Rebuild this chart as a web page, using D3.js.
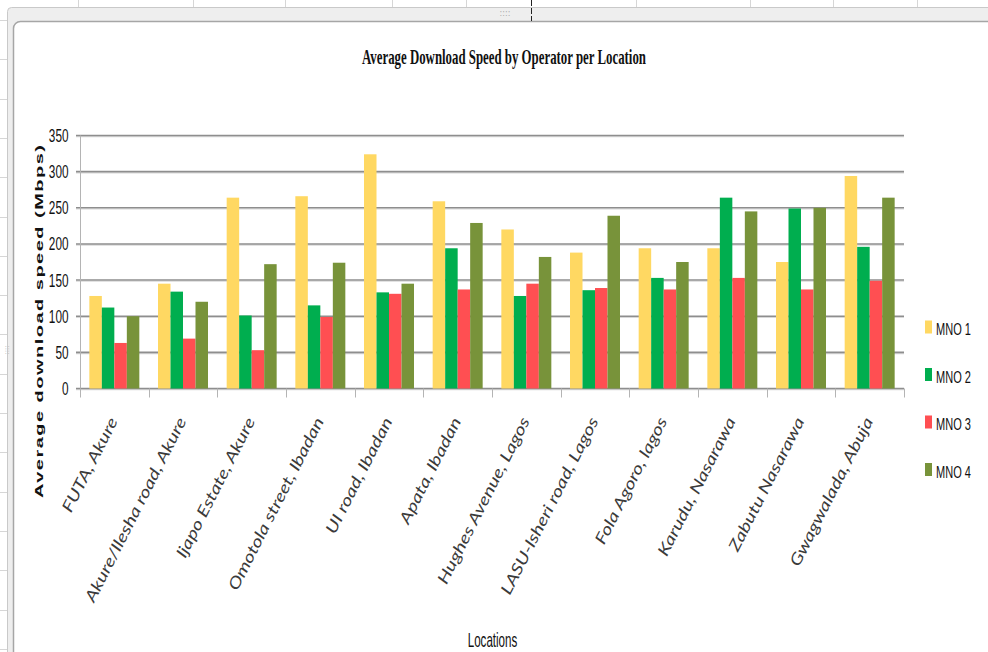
<!DOCTYPE html>
<html>
<head>
<meta charset="utf-8">
<script src="https://cdn.jsdelivr.net/npm/d3@7"></script>
<style>
  html, body { margin: 0; padding: 0; background: #fff; }
  svg { display: block; }
</style>
</head>
<body>
<svg id="chart" width="988" height="652"></svg>
<script>
// Locations surveyed
const locations = [
  "FUTA, Akure",
  "Akure/Ilesha road, Akure",
  "Ijapo Estate, Akure",
  "Omotola street, Ibadan",
  "UI road, Ibadan",
  "Apata, Ibadan",
  "Hughes Avenue, Lagos",
  "LASU-Isheri road, Lagos",
  "Fola Agoro, lagos",
  "Karudu, Nasarawa",
  "Zabutu Nasarawa",
  "Gwagwalada, Abuja"
];

// Operators
const operators = ["MNO 1", "MNO 2", "MNO 3", "MNO 4"];

// Average download speed (Mbps) per operator, one value per location
const mno1 = [128, 145, 264, 266, 324, 259, 220, 188, 194, 194, 175, 294];
const mno2 = [112, 134, 101, 115, 133, 194, 128, 136, 153, 264, 249, 196];
const mno3 = [63, 69, 53, 99, 131, 137, 145, 139, 137, 153, 137, 149];
const mno4 = [100, 120, 172, 174, 145, 229, 182, 239, 175, 245, 250, 264];

// Y axis ticks
const yTicks = [0, 50, 100, 150, 200, 250, 300, 350];

const seriesValues = [mno1, mno2, mno3, mno4];
const colors = ["#FFD862", "#00AE4F", "#FF4F52", "#78933A"];

const svg = d3.select("#chart");

// ---- worksheet backdrop around the chart object ----
const sheet = svg.append("g");
const colLines = [78, 193, 285, 392, 466, 636, 750, 833, 917];
colLines.forEach(x => sheet.append("line")
  .attr("x1", x + 0.5).attr("x2", x + 0.5).attr("y1", 0).attr("y2", 20)
  .attr("stroke", "#d6d6d6"));
d3.range(20, 652, 39.3).forEach(y => sheet.append("line")
  .attr("x1", 0).attr("x2", 8).attr("y1", Math.round(y) + 0.5).attr("y2", Math.round(y) + 0.5)
  .attr("stroke", "#d6d6d6"));

// chart object frame
sheet.append("rect")
  .attr("x", 7.5).attr("y", 7.5).attr("width", 1000).attr("height", 700)
  .attr("rx", 4).attr("fill", "#eeeeee").attr("stroke", "#c9c9c9");
sheet.append("rect")
  .attr("x", 13.5).attr("y", 21.5).attr("width", 1000).attr("height", 700)
  .attr("rx", 7).attr("fill", "#ffffff").attr("stroke", "#a6a6a6").attr("stroke-width", 1.5);
// resize handle and cursor marks
sheet.append("text").attr("x", 505).attr("y", 16).attr("text-anchor", "middle")
  .attr("font-family", "DejaVu Sans").attr("font-size", 8).attr("fill", "#aaa").text("::::");
sheet.append("line").attr("x1", 531.5).attr("x2", 531.5).attr("y1", 0).attr("y2", 21)
  .attr("stroke", "#222").attr("stroke-dasharray", "6,2");
sheet.append("text").attr("x", 9).attr("y", 350).attr("text-anchor", "middle")
  .attr("font-family", "DejaVu Sans").attr("font-size", 7).attr("fill", "#bbb")
  .attr("transform", "rotate(-90,9,350)").text("::::");

// ---- scales ----
const plot = { left: 80, right: 904, top: 135.5, bottom: 388.5 };

const x0 = d3.scaleBand().domain(locations).range([plot.left, plot.right]).padding(0);
const pad = x0.bandwidth() * 0.136;
const x1 = d3.scaleBand().domain(operators).range([pad, x0.bandwidth() - pad]).padding(0);
const y = d3.scaleLinear().domain([0, 350]).range([plot.bottom, plot.top]);

// ---- gridlines ----
const grid = svg.append("g");
grid.selectAll("line.shadow").data(yTicks).join("line")
  .attr("x1", 76).attr("x2", plot.right)
  .attr("y1", d => y(d) + 1.2).attr("y2", d => y(d) + 1.2)
  .attr("stroke", "#d8d8d8").attr("stroke-width", 1.2);
grid.selectAll("line.main").data(yTicks).join("line")
  .attr("x1", 76).attr("x2", plot.right)
  .attr("y1", d => y(d)).attr("y2", d => y(d))
  .attr("stroke", "#8e8e8e").attr("stroke-width", 1.6);

// left axis line
svg.append("line")
  .attr("x1", plot.left + 0.5).attr("x2", plot.left + 0.5)
  .attr("y1", plot.top).attr("y2", plot.bottom)
  .attr("stroke", "#b4b4b4");

// category tick marks under the baseline
const boundaries = locations.map(d => x0(d)).concat([plot.right]);
svg.append("g").selectAll("line").data(boundaries).join("line")
  .attr("x1", d => Math.round(d) + 0.5).attr("x2", d => Math.round(d) + 0.5)
  .attr("y1", plot.bottom).attr("y2", plot.bottom + 9)
  .attr("stroke", "#b4b4b4");

// ---- bars ----
const groups = svg.append("g").selectAll("g").data(locations).join("g")
  .attr("transform", d => `translate(${x0(d)},0)`);
groups.selectAll("rect")
  .data((d, i) => operators.map((op, k) => ({ op, k, v: seriesValues[k][i] })))
  .join("rect")
  .attr("x", d => x1(d.op))
  .attr("width", x1.bandwidth())
  .attr("y", d => y(d.v))
  .attr("height", d => y(0) - y(d.v))
  .attr("fill", d => colors[d.k]);

// ---- y tick labels (narrow face) ----
svg.append("g").selectAll("text").data(yTicks).join("text")
  .attr("transform", d => `translate(68.5,${y(d) + 6.5}) scale(0.62,1)`)
  .attr("text-anchor", "end")
  .attr("font-family", "Liberation Sans, Arial, sans-serif")
  .attr("font-size", 19)
  .attr("fill", "#111")
  .text(d => d);

// ---- x tick labels (slanted, slightly flattened) ----
svg.append("g").selectAll("text").data(locations).join("text")
  .attr("transform", d => `translate(${x0(d) + x0.bandwidth() / 2 - 1},${plot.bottom + 30}) rotate(-63) scale(1,0.78)`)
  .attr("text-anchor", "end")
  .attr("dy", "0.35em")
  .attr("font-family", "Lato, Open Sans, sans-serif")
  .attr("font-style", "italic")
  .attr("font-size", 20)
  .attr("fill", "#3a3a3a")
  .text(d => d);

// ---- titles ----
svg.append("text")
  .attr("x", 362).attr("y", 64)
  .attr("textLength", 284).attr("lengthAdjust", "spacingAndGlyphs")
  .attr("font-family", "Liberation Serif, Times New Roman, serif")
  .attr("font-weight", "bold")
  .attr("font-size", 22)
  .attr("fill", "#111")
  .text("Average  Download  Speed by Operator per Location");

svg.append("text")
  .attr("transform", "translate(492.5,647) scale(0.58,1)")
  .attr("text-anchor", "middle")
  .attr("font-family", "Liberation Sans, Arial, sans-serif")
  .attr("font-size", 20)
  .attr("fill", "#111")
  .text("Locations");

svg.append("text")
  .attr("transform", "translate(43,321.5) scale(0.55,1) rotate(-90)")
  .attr("text-anchor", "middle")
  .attr("textLength", 353).attr("lengthAdjust", "spacing")
  .attr("font-family", "Liberation Sans, Arial, sans-serif")
  .attr("font-weight", "bold")
  .attr("font-size", 20)
  .attr("fill", "#111")
  .text("Average download  speed  (Mbps)");

// ---- legend ----
const legend = svg.append("g").selectAll("g").data(operators).join("g")
  .attr("transform", (d, i) => `translate(925,${327 + i * 47.5})`);
legend.append("rect")
  .attr("x", 0).attr("y", -6.5).attr("width", 7).attr("height", 13)
  .attr("fill", (d, i) => colors[i]);
legend.append("text")
  .attr("transform", "translate(11,8) scale(0.69,1)")
  .attr("font-family", "Liberation Sans, Arial, sans-serif")
  .attr("font-size", 16)
  .attr("fill", "#111")
  .text(d => d);
</script>
</body>
</html>
